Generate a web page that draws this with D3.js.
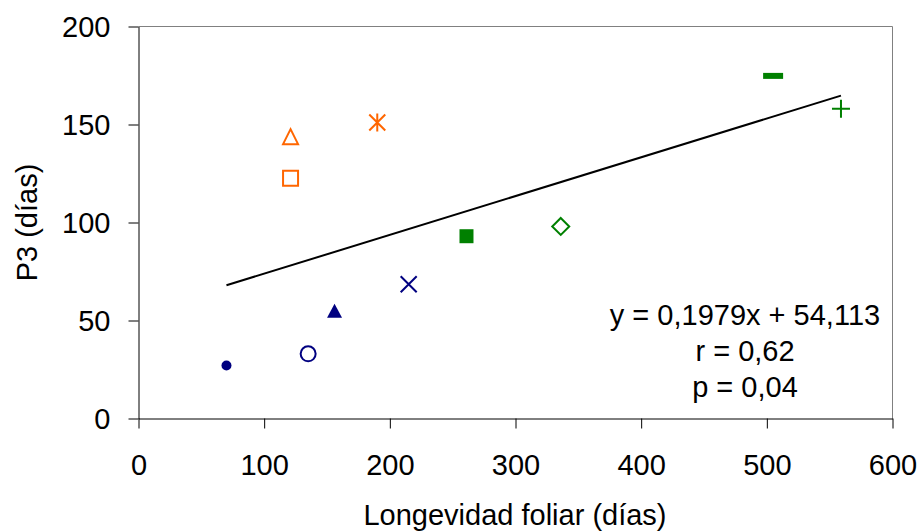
<!DOCTYPE html>
<html>
<head>
<meta charset="utf-8">
<script src="https://cdn.jsdelivr.net/npm/d3@7"></script>
<style>
  html, body { margin: 0; padding: 0; background: #fff; }
  svg { display: block; font-family: "Liberation Sans", Arial, sans-serif; }
</style>
</head>
<body>
<svg id="chart" width="922" height="531"></svg>
<script>
// Leaf longevity (days) vs P3 (days), one marker per species
const longevidad = [70, 135, 156, 215, 261, 336, 505, 559, 121, 121, 190];
const p3         = [27, 33, 55, 68.5, 93, 98, 174.8, 158, 143.8, 122.6, 151];
const markers    = ["dot", "circle", "triangleFill", "cross", "squareFill", "diamond",
                    "dash", "plus", "triangle", "square", "star"];
const colors     = ["#000080", "#000080", "#000080", "#000080", "#008000", "#008000",
                    "#008000", "#008000", "#FF6600", "#FF6600", "#FF6600"];

const xTicks = [0, 100, 200, 300, 400, 500, 600];
const yTicks = [0, 50, 100, 150, 200];

// Linear fit y = a x + b
const slope = 0.1979, intercept = 54.113;
const statLines = ["y = 0,1979x + 54,113", "r = 0,62", "p = 0,04"];

const xTitle = "Longevidad foliar (días)";
const yTitle = "P3 (días)";

const svg = d3.select("#chart");
const plotLeft = 138.5, plotRight = 892.5, plotTop = 26.5, plotBottom = 418.5;
const fontSize = 29;

const x = d3.scaleLinear().domain([0, 600]).range([plotLeft, plotRight]);
const y = d3.scaleLinear().domain([0, 200]).range([plotBottom, plotTop]);

// plot area border (top and right)
svg.append("path")
  .attr("d", `M${plotLeft},${plotTop}H${plotRight}V${plotBottom}`)
  .attr("fill", "none").attr("stroke", "#808080").attr("stroke-width", 1);

// axes
const xAxis = d3.axisBottom(x).tickValues(xTicks).tickSizeInner(10).tickSizeOuter(0).tickPadding(26);
const yAxis = d3.axisLeft(y).tickValues(yTicks).tickSizeInner(10).tickSizeOuter(0).tickPadding(18);

const gx = svg.append("g").attr("transform", `translate(0,${plotBottom})`).call(xAxis);
const gy = svg.append("g").attr("transform", `translate(${plotLeft},0)`).call(yAxis);

[gx, gy].forEach(g => {
  g.select(".domain").attr("stroke", "#000").attr("stroke-width", 1);
  g.selectAll(".tick line").attr("stroke", "#000").attr("stroke-width", 1);
  g.selectAll(".tick text")
    .attr("fill", "#000")
    .attr("font-size", fontSize)
    .attr("font-family", "'Liberation Sans', Arial, sans-serif");
});
gx.selectAll(".tick text").attr("dy", "0.71em");
gy.selectAll(".tick text").attr("dy", "0.36em");

// axis titles
svg.append("text")
  .attr("x", 515).attr("y", 525)
  .attr("text-anchor", "middle")
  .attr("font-size", fontSize)
  .attr("fill", "#000")
  .text(xTitle);

svg.append("text")
  .attr("transform", `translate(37,${(plotTop + plotBottom) / 2}) rotate(-90)`)
  .attr("text-anchor", "middle")
  .attr("font-size", fontSize)
  .attr("fill", "#000")
  .text(yTitle);

// trend line across the observed range
const xMin = d3.min(longevidad), xMax = d3.max(longevidad);
svg.append("line")
  .attr("x1", x(xMin)).attr("y1", y(slope * xMin + intercept))
  .attr("x2", x(xMax)).attr("y2", y(slope * xMax + intercept))
  .attr("stroke", "#000").attr("stroke-width", 2);

// marker shapes
function markerPath(type) {
  switch (type) {
    case "dot": return d3.arc()({innerRadius: 0, outerRadius: 5, startAngle: 0, endAngle: 2 * Math.PI});
    case "circle": return d3.arc()({innerRadius: 0, outerRadius: 7.5, startAngle: 0, endAngle: 2 * Math.PI});
    case "triangleFill": return "M0,-7L7.5,7L-7.5,7Z";
    case "triangle": return "M0,-7.5L7.5,7.5L-7.5,7.5Z";
    case "cross": return "M-8,-8L8,8M-8,8L8,-8";
    case "squareFill": return "M-7,-7H7V7H-7Z";
    case "square": return "M-7.5,-7.5H7.5V7.5H-7.5Z";
    case "diamond": return "M0,-8.5L8.5,0L0,8.5L-8.5,0Z";
    case "dash": return "M-10,-3H10V3H-10Z";
    case "plus": return "M-9,0H9M0,-9V9";
    case "star": return "M-8,-8L8,8M-8,8L8,-8M0,-9V9";
  }
}
const filled = new Set(["dot", "triangleFill", "squareFill", "dash"]);

svg.append("g").selectAll("path")
  .data(d3.range(longevidad.length))
  .join("path")
  .attr("transform", i => `translate(${x(longevidad[i])},${y(p3[i])})`)
  .attr("d", i => markerPath(markers[i]))
  .attr("fill", i => filled.has(markers[i]) ? colors[i] : "none")
  .attr("stroke", i => filled.has(markers[i]) ? "none" : colors[i])
  .attr("stroke-width", 2);

// regression statistics
svg.append("g").selectAll("text")
  .data(statLines)
  .join("text")
  .attr("x", 745)
  .attr("y", (d, i) => 325 + i * 36)
  .attr("text-anchor", "middle")
  .attr("font-size", fontSize)
  .attr("fill", "#000")
  .text(d => d);
</script>
</body>
</html>
